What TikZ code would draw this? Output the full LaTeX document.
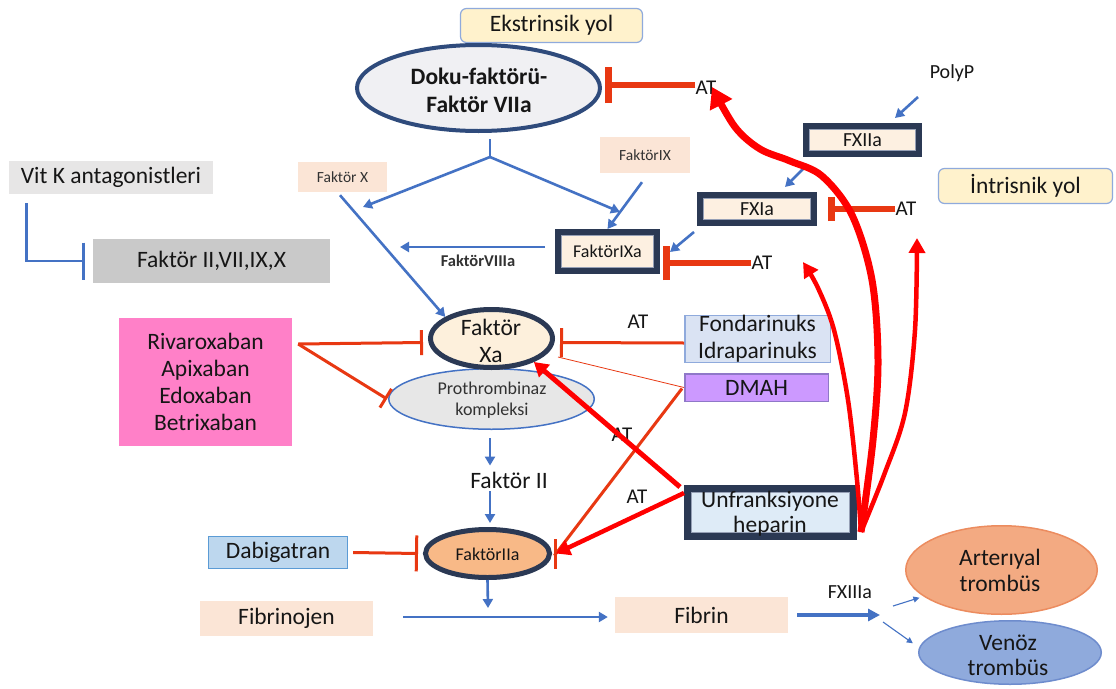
\documentclass[tikz,border=0pt]{standalone}
\usepackage{fontspec}
\setmainfont{Carlito}
\usetikzlibrary{arrows.meta,shapes.geometric}

\definecolor{navy}{RGB}{43,57,84}
\definecolor{ringnavy}{RGB}{47,75,124}
\definecolor{frameline}{RGB}{150,160,182}
\definecolor{bblue}{RGB}{68,114,196}
\definecolor{inhred}{RGB}{232,56,18}
\definecolor{hepred}{RGB}{255,0,0}
\definecolor{txtc}{RGB}{22,22,22}
\definecolor{txtgray}{RGB}{50,50,50}
\definecolor{peach}{RGB}{251,229,214}
\definecolor{beige}{RGB}{253,240,225}
\definecolor{ekstfill}{RGB}{255,242,204}
\definecolor{ekstdraw}{RGB}{143,170,220}
\definecolor{vitkgray}{RGB}{231,230,230}
\definecolor{midgray}{RGB}{201,201,201}
\definecolor{pinkfill}{RGB}{255,128,200}
\definecolor{fondfill}{RGB}{218,227,243}
\definecolor{dmahfill}{RGB}{204,153,255}
\definecolor{dmahdraw}{RGB}{143,120,200}
\definecolor{hepfill}{RGB}{222,235,247}
\definecolor{dabfill}{RGB}{189,215,238}
\definecolor{dabdraw}{RGB}{91,155,213}
\definecolor{dokufill}{RGB}{240,240,243}
\definecolor{xafill}{RGB}{253,240,220}
\definecolor{iiafill}{RGB}{248,185,135}
\definecolor{profill}{RGB}{231,231,231}
\definecolor{artfill}{RGB}{243,170,130}
\definecolor{artdraw}{RGB}{236,140,95}
\definecolor{venfill}{RGB}{143,170,220}
\definecolor{vendraw}{RGB}{110,140,205}

\begin{document}
\begin{tikzpicture}[x=1pt,y=-1pt,
  fbig/.style={font=\fontsize{23.5}{27}\selectfont},
  fmid/.style={font=\fontsize{20}{23}\selectfont},
  fat/.style={font=\fontsize{21}{24}\selectfont},
  fsml/.style={font=\fontsize{18}{21}\selectfont},
  flbl/.style={font=\fontsize{15.5}{18}\selectfont},
  flatbox/.style={rectangle, inner sep=0pt, align=center, text=txtc},
  darkframe/.style={flatbox, draw=navy, line width=6pt, fill=beige},
  ell/.style={ellipse, inner sep=0pt},
  tx/.style={inner sep=0pt, align=center, text=txtc},
  bline/.style={draw=bblue, line width=2.6pt},
  barrow/.style={draw=bblue, line width=2.6pt, -{Triangle[length=9pt,width=10pt]}},
  tarrow/.style={draw=bblue, line width=1.1pt, -{Triangle[length=6pt,width=6pt]}},
  binh/.style={draw=bblue, line width=2.8pt, -{Bar[width=#1,line width=3.2pt]}},
  rinh/.style={draw=inhred, line width=3pt, -{Bar[width=#1,line width=3pt]}},
  rstop/.style={draw=inhred, line width=5.5pt, -{Bar[width=#1,line width=7pt]}},
  heparrow/.style={draw=hepred, line width=#1, -{Triangle[length=14pt,width=16pt]}},
  innerframe/.style={draw=frameline, line width=1pt}]

\path[use as bounding box, fill=white] (0,0) rectangle (1116,688);

% ---- extrinsic pathway ----
\node[flatbox, fbig, fill=ekstfill, draw=ekstdraw, line width=1.2pt, rounded corners=6pt,
      minimum width=182pt, minimum height=34pt] (ekst) at (551.5,25.5) {Ekstrinsik yol};
\node[ell, draw=ringnavy, line width=4pt, fill=dokufill, minimum width=243pt, minimum height=86pt] (doku) at (478.5,88) {};
\node[tx, font=\fontsize{23.5}{28}\selectfont\bfseries] (dokut) at (479,90) {Doku-faktörü-\\Faktör VIIa};
\node[tx, fat] (at1) at (706,88) {AT};

% ---- intrinsic pathway ----
\node[tx, fmid] (polyp) at (952,73) {PolyP};
\node[flatbox, fbig, fill=ekstfill, draw=ekstdraw, line width=1.2pt, rounded corners=6pt,
      minimum width=174pt, minimum height=35pt] (intr) at (1025.5,186) {İntrisnik yol};
\node[darkframe, minimum width=113pt, minimum height=28pt] (fxiia) at (862.5,140) {};
\node[darkframe, minimum width=114pt, minimum height=28pt] (fxia) at (757,209) {};
\node[darkframe, minimum width=99pt, minimum height=39pt] (ixa) at (607.5,251.5) {};
\node[tx, fat] (at2) at (906,209) {AT};
\node[tx, fat] (at3) at (762,263) {AT};
\node[flatbox, flbl, fill=peach, text=txtgray, minimum width=90pt, minimum height=36pt] (fix) at (645,155) {FaktörIX};
\node[flatbox, flbl, fill=peach, text=txtgray, minimum width=89pt, minimum height=30pt] (fx) at (342.5,177) {Faktör X};
\node[tx, font=\fontsize{16.5}{19}\selectfont\bfseries, text=txtgray] (viiit) at (478,261) {FaktörVIIIa};

% ---- vitamin K antagonists ----
\node[flatbox, fbig, fill=vitkgray, minimum width=204pt, minimum height=33pt] (vitk) at (111,177.5) {Vit K antagonistleri};
\node[flatbox, fbig, fill=midgray, minimum width=237pt, minimum height=44pt] (f2box) at (211.5,261) {Faktör II,VII,IX,X};

% ---- common pathway ----
\node[flatbox, fbig, fill=pinkfill, minimum width=173pt, minimum height=128pt] (pink) at (205.5,382)
  {Rivaroxaban\\Apixaban\\Edoxaban\\Betrixaban};
\node[ell, draw=bblue, line width=1.5pt, fill=profill, minimum width=205.5pt, minimum height=60.5pt] (pro) at (491.5,399) {};
\node[tx, fsml, text=txtgray] (prot) at (492,400) {Prothrombinaz\\kompleksi};
\node[ell, draw=navy, line width=5pt, fill=xafill, minimum width=122pt, minimum height=58pt] (xa) at (491.5,338.5) {};
\node[tx, fbig] (xat) at (491,341) {Faktör\\Xa};
\node[tx, fbig] (f2t) at (509,480) {Faktör II};
\node[ell, draw=navy, line width=5pt, fill=iiafill, minimum width=124pt, minimum height=48pt] (iia) at (487.5,553.5) {};
\node[tx, fsml] (iiat) at (487.5,554) {FaktörIIa};
\node[flatbox, fbig, fill=dabfill, draw=dabdraw, line width=1.2pt, minimum width=139pt, minimum height=32pt] (dabig) at (278,552.5) {Dabigatran};
\node[flatbox, fbig, fill=peach, minimum width=173pt, minimum height=35pt] (fibg) at (286.5,618.5) {Fibrinojen};
\node[flatbox, fbig, fill=peach, minimum width=173pt, minimum height=36pt] (fibn) at (701.5,615) {Fibrin};
\node[tx, fmid] (fxiii) at (850,592) {FXIIIa};
\node[ell, draw=artdraw, line width=1.5pt, fill=artfill, minimum width=191.5pt, minimum height=88.5pt] (art) at (1001.5,570) {};
\node[tx, font=\fontsize{23.5}{26}\selectfont] (artt) at (1000,570) {Arterıyal\\trombüs};
\node[ell, draw=vendraw, line width=1.5pt, fill=venfill, minimum width=182.5pt, minimum height=63.5pt] (ven) at (1010,652.5) {};
\node[tx, font=\fontsize{23.5}{25}\selectfont] (vent) at (1008,655.5) {Venöz\\trombüs};

% ---- anticoagulants ----
\node[flatbox, fbig, fill=fondfill, draw=ekstdraw, line width=1.5pt, minimum width=145.5pt, minimum height=44.5pt] (fond) at (757.5,339) {Fondarinuks\\Idraparinuks};
\node[flatbox, fbig, fill=dmahfill, draw=dmahdraw, line width=1.5pt, minimum width=143.5pt, minimum height=27.5pt] (dmah) at (756.5,387.5) {DMAH};
\node[darkframe, fill=hepfill, line width=7pt, minimum width=166pt, minimum height=48pt] (hep) at (770.5,512.5) {};
\node[tx, fat] (at4) at (638,322) {AT};
\node[tx, fat] (at5) at (622,435) {AT};
\node[tx, fat] (at6) at (637,497) {AT};

% light inner edge of the dark frames, then their labels
\foreach \n in {fxiia,fxia,ixa}
  \draw[innerframe] ([shift={(6.5,6.5)}]\n.north west) rectangle ([shift={(-6.5,-6.5)}]\n.south east);
\draw[innerframe] ([shift={(7.5,7.5)}]hep.north west) rectangle ([shift={(-7.5,-7.5)}]hep.south east);
\node[tx, fmid] (fxiiat) at (fxiia) {FXIIa};
\node[tx, fmid] (fxiat) at (fxia) {FXIa};
\node[tx, fsml] (ixat) at (ixa) {FaktörIXa};
\node[tx, font=\fontsize{23.5}{25}\selectfont] (hept) at (770,514) {Unfranksiyone\\heparin};

% free ends of connectors
\coordinate (br) at (490,157);
\coordinate (xin) at (363,207);
\coordinate (viii) at (400,247);
\coordinate (fj) at (488,608);
\coordinate (split) at (880,615);
\coordinate (pk) at ([shift={(6,-38)}]pink.east);
\coordinate (hr) at ([shift={(4,-8)}]hep.south east);
\coordinate (tipA) at (712,87);
\coordinate (tipB) at (803,262);
\coordinate (tipC) at (917,238);

% ---- blue activation arrows ----
\draw[bline] ([shift={(11.5,6)}]doku.south) -- (br);
\draw[barrow] (br) -- (xin);
\draw[barrow] (br) -- ([shift={(12.5,-17)}]ixa.north);
\draw[barrow] ([shift={(-3,9)}]fix.south) -- (ixa.north);
\draw[barrow] ([shift={(-2.5,3)}]fx.south) -- (xa.155);
\draw[barrow] ([shift={(-10,-4.5)}]ixa.west) -- (viii);
\draw[barrow] ([shift={(-34,24)}]polyp.center) -- ([shift={(32.5,-5)}]fxiia.north);
\draw[barrow] ([shift={(4,8)}]fxiia.south west) -- ([shift={(-32,-5)}]fxia.north east);
\draw[barrow] ([shift={(-3,6)}]fxia.south west) -- ([shift={(10,0.5)}]ixa.east);
\draw[barrow] ([shift={(-1.5,8)}]pro.south) -- ([shift={(-19,-6)}]f2t.north);
\draw[barrow] ([shift={(-19,3)}]f2t.south) -- ([shift={(2.5,-4)}]iia.north);
\draw[barrow] (iia.south) -- (fj);
\draw[barrow] ([shift={(30,-1.5)}]fibg.east) -- ([shift={(-7,2)}]fibn.west);
\draw[draw=bblue, line width=3.8pt, -{Triangle[length=12pt,width=12pt]}] ([xshift=9pt]fibn.east) -- (split);
\draw[tarrow] ([shift={(13,-9)}]split) -- ([xshift=-6pt]art.200);
\draw[tarrow] ([shift={(3,7)}]split) -- ([xshift=-9pt]ven.174);

% ---- vitamin K antagonism ----
\draw[binh=37pt] ([shift={(18,9)}]vitk.south west) |- ([xshift=-8pt]f2box.west);

% ---- antithrombin inhibitions ----
\draw[rstop=36pt] ([shift={(0,-3)}]at1.west) -- ([shift={(3,-3)}]doku.east);
\draw[rstop=24pt] (at2.west) -- ([xshift=11pt]fxia.east);
\draw[rstop=34pt] (at3.west) -- ([shift={(3,11.5)}]ixa.east);

% ---- direct inhibitors ----
\draw[rinh=25pt] (pk) -- ([shift={(-5,4)}]xa.west);
\draw[rinh=22pt] (pk) -- ([xshift=-1pt]pro.west);
\draw[rinh=29pt] ([shift={(0,4)}]fond.west) -- ([shift={(5,4)}]xa.east);
\draw[rinh=36pt] ([xshift=5pt]dabig.east) -- ([xshift=-5pt]iia.west);
\draw[draw=inhred, line width=0.8pt] (dmah.west) -- ([shift={(3,18.5)}]xa.east);
\draw[rinh=30pt] ([shift={(-2,1)}]dmah.west) -- ([xshift=4pt]iia.east) -- ([xshift=2pt]iia.east);

% ---- heparin ----
\draw[heparrow=5pt] ([shift={(-4,2)}]hep.north west) -- (xa.-29);
\draw[heparrow=4.5pt] ([shift={(0,8)}]hep.north west) -- ([xshift=4pt]iia.east);
\draw[draw=hepred, line width=4.5pt, -{Triangle[length=15pt,width=16pt]}]
  plot[smooth, tension=0.55] coordinates {(hr) (857,480) (848,400) (834,330) (818,288) (tipB)};
\draw[draw=hepred, line width=4.5pt, -{Triangle[length=15pt,width=16pt]}]
  plot[smooth, tension=0.55] coordinates {(hr) (884,475) (905,413) (915,330) (tipC)};
\draw[draw=hepred, line width=7pt, -{Triangle[length=20pt,width=24pt]}]
  plot[smooth, tension=0.55] coordinates {(hr) (873,440) (878,360) (872,280) (852,215) (822,176) (790,161) (760,149) (735,127) (tipA)};
\end{tikzpicture}
\end{document}
